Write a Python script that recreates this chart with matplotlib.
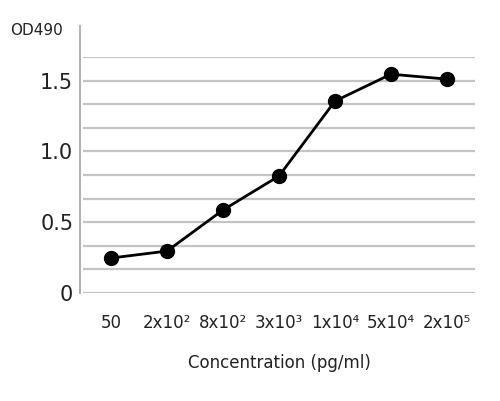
import matplotlib
matplotlib.use("Agg")
import matplotlib.pyplot as plt
import numpy as np

# data
concentrations = ["50", "2x10²", "8x10²", "3x10³", "1x10⁴", "5x10⁴", "2x10⁵"]
od490 = [0.247, 0.296, 0.586, 0.826, 1.355, 1.545, 1.51]
y_ticks = [0, 0.5, 1.0, 1.5]
y_tick_labels = ["0", "0.5", "1.0", "1.5"]

plt.rcParams['font.family'] = ['DejaVu Sans']

fig = plt.figure(figsize=(5, 4.01), dpi=100)
ax = fig.add_axes([0.166, 0.2693, 0.784, 0.5887])

x = np.arange(len(concentrations))
ymax = 5 / 3

# horizontal gridlines every 1/6
for g in np.arange(0, ymax + 0.01, 1 / 6):
    ax.axhline(g, color="#c4c4c4", lw=1.6, zorder=1)

ax.plot(x, od490, color="black", lw=2, marker="o", markersize=10, zorder=3)

ax.set_xlim(-0.5, len(concentrations) - 0.5)
ax.set_ylim(0, ymax)
ax.set_xticks(x)
ax.set_xticklabels(concentrations, fontsize=12, color="#222222")
ax.set_yticks(y_ticks)
ax.set_yticklabels(y_tick_labels, fontsize=15, color="#222222")
ax.tick_params(length=0)
ax.tick_params(axis="x", pad=15)
ax.tick_params(axis="y", pad=7)

for s in ax.spines.values():
    s.set_visible(False)

# left axis line, extending above the plot area
ax.plot([-0.008, -0.008], [0, 1.13], transform=ax.transAxes, color="#b0b0b0",
        lw=1.4, clip_on=False)

ax.set_xlabel("Concentration (pg/ml)", fontsize=12, color="#222222", labelpad=16)
fig.text(0.02, 0.925, "OD490", fontsize=11, color="#222222", va="center")

fig.savefig("out.png", dpi=100)
